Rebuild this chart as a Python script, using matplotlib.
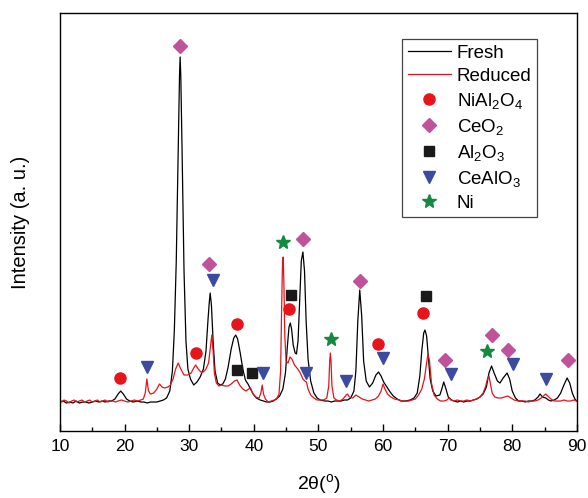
import numpy as np
import matplotlib
matplotlib.use('Agg')
import matplotlib.pyplot as plt

plt.rcParams['font.family'] = ['Liberation Sans', 'DejaVu Sans']
plt.rcParams['mathtext.fontset'] = 'custom'
plt.rcParams['mathtext.rm'] = 'Liberation Sans'
plt.rcParams['mathtext.it'] = 'Liberation Sans'

# fresh catalyst pattern (2theta, intensity a.u.)
fresh_x = [10.0, 10.5, 11.0, 11.5, 12.0, 12.5, 13.0, 13.5, 14.0, 14.5, 15.0, 15.5, 16.0, 16.5,
           17.0, 17.5, 18.0, 18.5, 19.0, 19.4, 19.8, 20.3, 20.8, 21.3, 22.0, 22.5, 23.0, 23.5,
           24.0, 24.5, 25.0, 25.5, 26.0, 26.5, 27.0, 27.4, 27.7, 28.0, 28.3, 28.5, 28.6, 28.7,
           28.9, 29.2, 29.5, 29.8, 30.2, 30.7, 31.2, 31.7, 32.2, 32.6, 32.9, 33.1, 33.25, 33.45,
           33.7, 34.0, 34.4, 34.8, 35.2, 35.6, 36.0, 36.5, 36.9, 37.2, 37.5, 37.9, 38.3, 38.7,
           39.1, 39.5, 39.9, 40.4, 41.0, 41.5, 42.0, 42.5, 43.0, 43.5, 44.0, 44.5, 44.9, 45.2,
           45.45, 45.65, 45.85, 46.1, 46.4, 46.6, 46.85, 47.1, 47.35, 47.6, 47.85, 48.1, 48.4,
           48.8, 49.3, 49.8, 50.3, 51.0, 51.5, 52.0, 52.5, 53.0, 53.5, 54.0, 54.5, 55.0, 55.5,
           55.8, 56.1, 56.4, 56.7, 57.0, 57.4, 57.9, 58.4, 58.9, 59.3, 59.7, 60.1, 60.6, 61.1,
           61.6, 62.2, 62.8, 63.5, 64.2, 64.8, 65.3, 65.7, 66.0, 66.3, 66.5, 66.75, 67.0, 67.3,
           67.7, 68.2, 68.8, 69.1, 69.4, 69.7, 70.1, 70.6, 71.0, 71.5, 72.0, 72.5, 73.0, 73.5,
           74.0, 74.5, 75.0, 75.5, 76.0, 76.4, 76.8, 77.2, 77.7, 78.1, 78.6, 79.2, 79.6, 80.0,
           80.5, 81.0, 81.5, 82.0, 82.5, 83.0, 83.5, 84.0, 84.3, 84.7, 85.2, 85.6, 86.0, 86.5,
           87.0, 87.5, 88.0, 88.5, 88.9, 89.3, 89.7, 90.0]
fresh_y = [29, 30, 28, 29, 28, 30, 28, 29, 29, 28, 29, 30, 29, 30,
           29, 30, 30, 32, 37, 40, 37, 32, 30, 29, 30, 29, 29, 28,
           29, 29, 29, 30, 31, 33, 40, 60, 100, 170, 280, 355, 374, 355,
           280, 160, 90, 62, 52, 46, 49, 54, 62, 80, 110, 128, 138, 125,
           90, 60, 48, 46, 47, 52, 63, 82, 93, 96, 92, 78, 62, 51,
           47, 42, 37, 33, 31, 30, 29, 29, 30, 32, 35, 42, 58, 85,
           104, 108, 102, 86, 78, 77, 90, 130, 170, 179, 160, 110, 72,
           50, 38, 33, 31, 30, 30, 29, 30, 30, 30, 31, 31, 33, 40,
           60, 110, 141, 115, 70, 50, 44, 48, 56, 59, 55, 49, 44, 39,
           35, 32, 30, 30, 31, 33, 38, 55, 80, 98, 101, 95, 75, 52,
           40, 35, 36, 42, 49, 43, 34, 31, 30, 29, 30, 29, 30, 30,
           31, 32, 34, 37, 44, 58, 65, 58, 50, 48, 53, 58, 52, 40,
           33, 30, 30, 29, 30, 30, 31, 34, 37, 34, 33, 31, 30, 31,
           33, 38, 46, 53, 48, 38, 32, 30]

# reduced catalyst pattern
reduced_x = [10.0, 10.3, 10.6, 11.0, 11.4, 11.8, 12.2, 12.6, 13.0, 13.4, 13.8, 14.2, 14.6, 15.0,
             15.4, 15.8, 16.2, 16.6, 17.0, 17.4, 17.8, 18.2, 18.6, 19.0, 19.5, 20.0, 20.5, 21.0,
             21.5, 22.0, 22.5, 22.9, 23.2, 23.45, 23.7, 24.0, 24.5, 25.0, 25.4, 25.8, 26.2, 26.7,
             27.1, 27.5, 27.9, 28.3, 28.7, 29.2, 29.8, 30.3, 30.7, 31.0, 31.4, 31.8, 32.2, 32.6,
             33.0, 33.3, 33.5, 33.7, 33.9, 34.2, 34.6, 35.0, 35.5, 36.0, 36.5, 37.0, 37.4, 37.8,
             38.3, 38.8, 39.2, 39.5, 39.8, 40.3, 40.8, 41.1, 41.3, 41.5, 41.8, 42.2, 42.7, 43.2,
             43.6, 43.9, 44.15, 44.3, 44.45, 44.55, 44.65, 44.8, 45.0, 45.3, 45.6, 45.9, 46.3,
             46.8, 47.2, 47.6, 47.9, 48.15, 48.4, 48.8, 49.3, 49.8, 50.3, 50.8, 51.3, 51.6, 51.75,
             51.85, 51.95, 52.1, 52.4, 52.8, 53.3, 53.8, 54.3, 54.5, 54.8, 55.3, 55.8, 56.3, 56.8,
             57.3, 57.8, 58.3, 58.8, 59.3, 59.7, 60.0, 60.3, 60.7, 61.2, 61.8, 62.5, 63.0, 63.5,
             64.0, 64.5, 65.0, 65.5, 66.0, 66.4, 66.7, 66.95, 67.2, 67.5, 67.9, 68.4, 68.9, 69.4,
             69.9, 70.2, 70.5, 71.0, 71.5, 72.0, 72.5, 73.0, 73.5, 74.0, 74.5, 75.0, 75.5, 75.9,
             76.2, 76.4, 76.6, 76.9, 77.3, 77.8, 78.3, 78.8, 79.3, 79.8, 80.3, 81.0, 81.5, 82.0,
             82.5, 83.0, 83.5, 84.0, 84.5, 85.0, 85.2, 85.5, 86.0, 86.5, 87.0, 87.5, 88.0, 88.5,
             89.0, 89.5, 90.0]
reduced_y = [31, 29, 31, 30, 28, 30, 31, 29, 30, 31, 29, 30, 31, 29,
             30, 31, 29, 30, 31, 29, 30, 30, 29, 30, 31, 30, 29, 30,
             31, 30, 31, 32, 38, 52, 40, 37, 38, 42, 47, 44, 43, 44,
             46, 52, 62, 68, 62, 56, 56, 58, 63, 66, 62, 59, 59, 62,
             68, 85, 96, 80, 58, 48, 45, 46, 45, 45, 47, 50, 51, 46,
             42, 40, 42, 43, 38, 34, 33, 38, 46, 37, 32, 29, 30, 31,
             33, 37, 60, 120, 170, 174, 150, 95, 70, 68, 74, 72, 66,
             62, 58, 52, 50, 49, 42, 36, 33, 31, 31, 31, 33, 45, 70,
             78, 70, 45, 33, 31, 30, 32, 36, 37, 34, 33, 36, 34, 32,
             31, 30, 31, 32, 35, 40, 47, 42, 37, 34, 32, 31, 30, 30,
             30, 31, 32, 36, 42, 52, 66, 77, 70, 48, 36, 32, 30, 30,
             31, 33, 31, 30, 31, 30, 30, 31, 30, 31, 32, 34, 38, 45,
             53, 55, 48, 38, 34, 33, 33, 34, 35, 33, 31, 30, 30, 30,
             29, 30, 30, 31, 33, 36, 37, 35, 32, 30, 30, 30, 31, 30,
             30, 31, 30]

# phase markers
nial2o4_x = [19.3, 31.0, 37.4, 45.4, 59.2, 66.2]
nial2o4_y = [53, 78, 107, 122, 87, 118]
ceo2_x = [28.6, 33.1, 47.6, 56.4, 69.6, 76.8, 79.3, 88.6]
ceo2_y = [385, 167, 192, 150, 71, 96, 81, 71]
al2o3_x = [37.4, 39.7, 45.7, 66.6]
al2o3_y = [61, 58, 136, 135]
cealo3_x = [23.5, 33.7, 41.4, 48.1, 54.3, 60.0, 70.5, 80.1, 85.2]
cealo3_y = [64, 151, 58, 58, 50, 73, 57, 67, 52]
ni_x = [44.5, 51.9, 76.1]
ni_y = [189, 92, 80]

fig = plt.figure(figsize=(5.88, 4.98), dpi=100)
ax = fig.add_axes([0.102, 0.1345, 0.879, 0.8395])

ax.plot(fresh_x, fresh_y, color='black', lw=0.9, label='Fresh')
ax.plot(reduced_x, reduced_y, color='#e3141b', lw=0.9, label='Reduced')

ax.plot(nial2o4_x, nial2o4_y, ls='none', marker='o', ms=8, color='#e8141c',
        label=r'NiAl$_\mathregular{2}$O$_\mathregular{4}$')
ax.plot(ceo2_x, ceo2_y, ls='none', marker='D', ms=7.5, color='#c0519b',
        label=r'CeO$_\mathregular{2}$')
ax.plot(al2o3_x, al2o3_y, ls='none', marker='s', ms=7, color='#1a1a1a',
        label=r'Al$_\mathregular{2}$O$_\mathregular{3}$')
ax.plot(cealo3_x, cealo3_y, ls='none', marker='v', ms=9, color='#3b4ba0',
        label=r'CeAlO$_\mathregular{3}$')
ax.plot(ni_x, ni_y, ls='none', marker='*', ms=10, color='#138a3e', label='Ni')

ax.set_xlim(10, 90)
ax.set_ylim(0, 418)
ax.set_xticks(np.arange(10, 91, 10))
ax.set_xticks(np.arange(15, 90, 10), minor=True)
ax.set_yticks([])
ax.tick_params(axis='x', which='major', direction='in', length=5, width=1,
               labelsize=12.5, pad=6, top=False)
ax.tick_params(axis='x', which='minor', direction='in', length=3, width=1, top=False)
for s in ax.spines.values():
    s.set_linewidth(1.0)

ax.set_xlabel('2θ($^\\mathregular{o}$)', fontsize=14)
ax.set_ylabel('Intensity (a. u.)', fontsize=14.5)
ax.xaxis.set_label_coords(0.5, -0.098)
ax.yaxis.set_label_coords(-0.058, 0.5)

leg = ax.legend(loc='upper right', bbox_to_anchor=(0.923, 0.938), borderaxespad=0,
                fontsize=13.5, fancybox=False, edgecolor='#444444', framealpha=1,
                handlelength=2.3, handletextpad=0.3, labelspacing=0.32, borderpad=0.3)
leg.get_frame().set_linewidth(0.9)

fig.savefig('out.png', dpi=100)
